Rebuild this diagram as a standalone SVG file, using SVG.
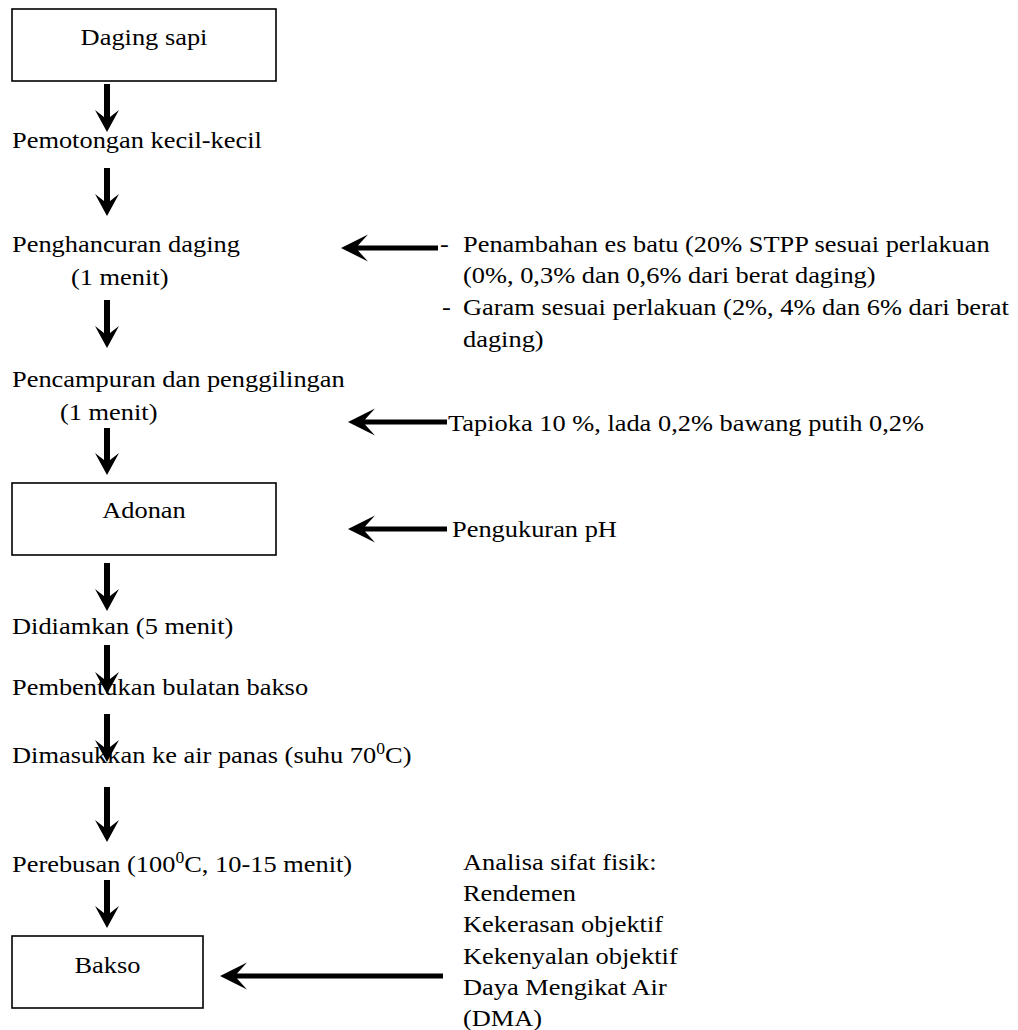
<svg xmlns="http://www.w3.org/2000/svg" width="1018" height="1030" viewBox="0 0 1018 1030">
<style>
.t{font-family:"Liberation Serif","Times New Roman",serif;font-size:24px;fill:#000}
.c{text-anchor:middle}
.box{fill:#fff;stroke:#000;stroke-width:1.6}
.arr{fill:#000;stroke:none}
</style>
<rect width="1018" height="1030" fill="#fff"/>
<g id="connectors">
<path class="arr" d="M104,84 H110 V117 L119,110 L107,132 L95,110 L104,117 Z"/>
<path class="arr" d="M104,168 H110 V201 L119,194 L107,216 L95,194 L104,201 Z"/>
<path class="arr" d="M104,300 H110 V333 L119,326 L107,348 L95,326 L104,333 Z"/>
<path class="arr" d="M104,428 H110 V460 L119,453 L107,475 L95,453 L104,460 Z"/>
<path class="arr" d="M104,563 H110 V596 L119,589 L107,611 L95,589 L104,596 Z"/>
<path class="arr" d="M104,645 H110 V679 L119,672 L107,694 L95,672 L104,679 Z"/>
<path class="arr" d="M104,714 H110 V747 L119,740 L107,762 L95,740 L104,747 Z"/>
<path class="arr" d="M104,787 H110 V827 L119,820 L107,842 L95,820 L104,827 Z"/>
<path class="arr" d="M104,880 H110 V913 L119,906 L107,928 L95,906 L104,913 Z"/>
<path class="arr" d="M438,245.5 H358 L368,234.5 L341,248 L368,261.5 L358,250.5 H438 Z"/>
<path class="arr" d="M447,419.5 H365 L375,408.5 L348,422 L375,435.5 L365,424.5 H447 Z"/>
<path class="arr" d="M447,526.5 H365 L375,515.5 L348,529 L375,542.5 L365,531.5 H447 Z"/>
<path class="arr" d="M443,973.5 H237 L247,962.5 L220,976 L247,989.5 L237,978.5 H443 Z"/>
</g>
<g id="n-daging-sapi">
<rect class="box" x="12" y="9" width="264" height="72"/>
<text class="t c" transform="translate(144 45) scale(1.1 1)">Daging sapi</text>
</g>
<g id="n-pemotongan">
<text class="t" transform="translate(12 148) scale(1.1 1)">Pemotongan kecil-kecil</text>
</g>
<g id="n-penghancuran">
<text class="t" transform="translate(12 252) scale(1.1 1)">Penghancuran daging</text>
<text class="t" transform="translate(71 285) scale(1.1 1)">(1 menit)</text>
</g>
<g id="n-penambahan">
<text class="t" transform="translate(440 252) scale(1.1 1)">-</text>
<text class="t" transform="translate(463 252) scale(1.1 1)">Penambahan es batu (20% STPP sesuai perlakuan</text>
<text class="t" transform="translate(463 283) scale(1.1 1)">(0%, 0,3% dan 0,6% dari berat daging)</text>
<text class="t" transform="translate(442 315) scale(1.1 1)">-</text>
<text class="t" transform="translate(463 315) scale(1.1 1)">Garam sesuai perlakuan (2%, 4% dan 6% dari berat</text>
<text class="t" transform="translate(463 347) scale(1.1 1)">daging)</text>
</g>
<g id="n-pencampuran">
<text class="t" transform="translate(12 387) scale(1.1 1)">Pencampuran dan penggilingan</text>
<text class="t" transform="translate(60 420) scale(1.1 1)">(1 menit)</text>
</g>
<g id="n-tapioka">
<text class="t" transform="translate(448 431) scale(1.1 1)">Tapioka 10 %, lada 0,2% bawang putih 0,2%</text>
</g>
<g id="n-adonan">
<rect class="box" x="12" y="483" width="264" height="72"/>
<text class="t c" transform="translate(144 518) scale(1.1 1)">Adonan</text>
</g>
<g id="n-pengukuran">
<text class="t" transform="translate(452 537) scale(1.1 1)">Pengukuran pH</text>
</g>
<g id="n-didiamkan">
<text class="t" transform="translate(12 634) scale(1.1 1)">Didiamkan (5 menit)</text>
</g>
<g id="n-pembentukan">
<text class="t" transform="translate(12 695) scale(1.1 1)">Pembentukan bulatan bakso</text>
</g>
<g id="n-dimasukkan">
<text class="t" transform="translate(12 763) scale(1.1 1)">Dimasukkan ke air panas (suhu 70<tspan dy="-9" font-size="16">0</tspan><tspan dy="9">C)</tspan></text>
</g>
<g id="n-perebusan">
<text class="t" transform="translate(12 872) scale(1.1 1)">Perebusan (100<tspan dy="-9" font-size="16">0</tspan><tspan dy="9">C, 10-15 menit)</tspan></text>
</g>
<g id="n-analisa">
<text class="t" transform="translate(463 870) scale(1.1 1)">Analisa sifat fisik:</text>
<text class="t" transform="translate(463 901) scale(1.1 1)">Rendemen</text>
<text class="t" transform="translate(463 932) scale(1.1 1)">Kekerasan objektif</text>
<text class="t" transform="translate(463 964) scale(1.1 1)">Kekenyalan objektif</text>
<text class="t" transform="translate(463 995) scale(1.1 1)">Daya Mengikat Air</text>
<text class="t" transform="translate(463 1026) scale(1.1 1)">(DMA)</text>
</g>
<g id="n-bakso">
<rect class="box" x="12" y="936" width="191" height="72"/>
<text class="t c" transform="translate(107.5 973) scale(1.1 1)">Bakso</text>
</g>
</svg>
